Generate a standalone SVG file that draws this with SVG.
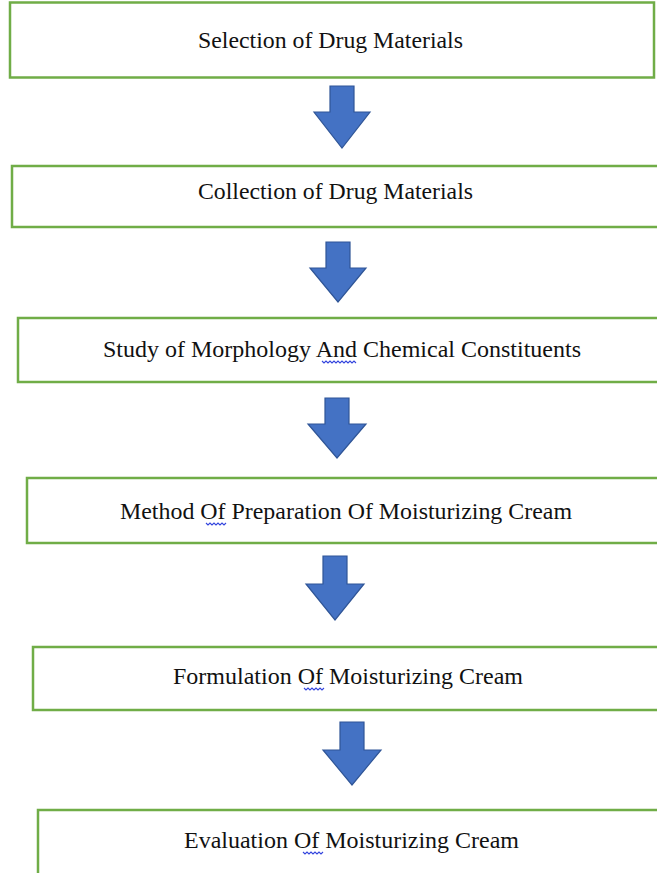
<svg xmlns="http://www.w3.org/2000/svg" width="657" height="873" viewBox="0 0 657 873">
<style>
.box{fill:#fff;stroke:#70AD47;stroke-width:2.5}
.lbl{font-family:'Liberation Serif','Times New Roman',serif;font-size:23.5px;fill:#111}
.arr{fill:#4472C4;stroke:#2F5597;stroke-width:1.2;stroke-linejoin:miter}
.sq{fill:none;stroke:#3344dd;stroke-width:1.1}
</style>
<rect width="657" height="873" fill="#fff"/>
<g id="n1"><rect class="box" x="10" y="2.5" width="644" height="75"/><text class="lbl" x="198" y="48" textLength="265" lengthAdjust="spacingAndGlyphs">Selection of Drug Materials</text></g>
<g id="n2"><rect class="box" x="12" y="166" width="660" height="61"/><text class="lbl" x="198" y="199" textLength="275" lengthAdjust="spacingAndGlyphs">Collection of Drug Materials</text></g>
<g id="n3"><rect class="box" x="18" y="318" width="660" height="64"/><text class="lbl" x="103" y="357" textLength="478" lengthAdjust="spacingAndGlyphs">Study of Morphology And Chemical Constituents</text><path class="sq" d="M322,361 l2,2 2,-2 2,2 2,-2 2,2 2,-2 2,2 2,-2 2,2 2,-2 2,2 2,-2 2,2 2,-2 2,2 2,-2 2,2"/></g>
<g id="n4"><rect class="box" x="27" y="478" width="660" height="65"/><text class="lbl" x="120" y="519" textLength="452" lengthAdjust="spacingAndGlyphs">Method Of Preparation Of Moisturizing Cream</text><path class="sq" d="M206,523 l2,2 2,-2 2,2 2,-2 2,2 2,-2 2,2 2,-2 2,2 2,-2"/></g>
<g id="n5"><rect class="box" x="33" y="647" width="660" height="63"/><text class="lbl" x="173" y="684" textLength="350" lengthAdjust="spacingAndGlyphs">Formulation Of Moisturizing Cream</text><path class="sq" d="M304,688 l2,2 2,-2 2,2 2,-2 2,2 2,-2 2,2 2,-2 2,2 2,-2"/></g>
<g id="n6"><rect class="box" x="38" y="810" width="660" height="80"/><text class="lbl" x="184" y="848" textLength="335" lengthAdjust="spacingAndGlyphs">Evaluation Of Moisturizing Cream</text><path class="sq" d="M303,852 l2,2 2,-2 2,2 2,-2 2,2 2,-2 2,2 2,-2 2,2 2,-2"/></g>
<g id="connectors">
<path class="arr" d="M330,86 H354 V112 H370 L342,148 L314,112 H330 Z"/>
<path class="arr" d="M326,242 H350 V268 H366 L338,302 L310,268 H326 Z"/>
<path class="arr" d="M325,398 H349 V424 H366 L337,458 L308,424 H325 Z"/>
<path class="arr" d="M323,556 H347 V584 H364 L335,620 L306,584 H323 Z"/>
<path class="arr" d="M340,722 H364 V750 H381 L352,785 L323,750 H340 Z"/>
</g>
</svg>
